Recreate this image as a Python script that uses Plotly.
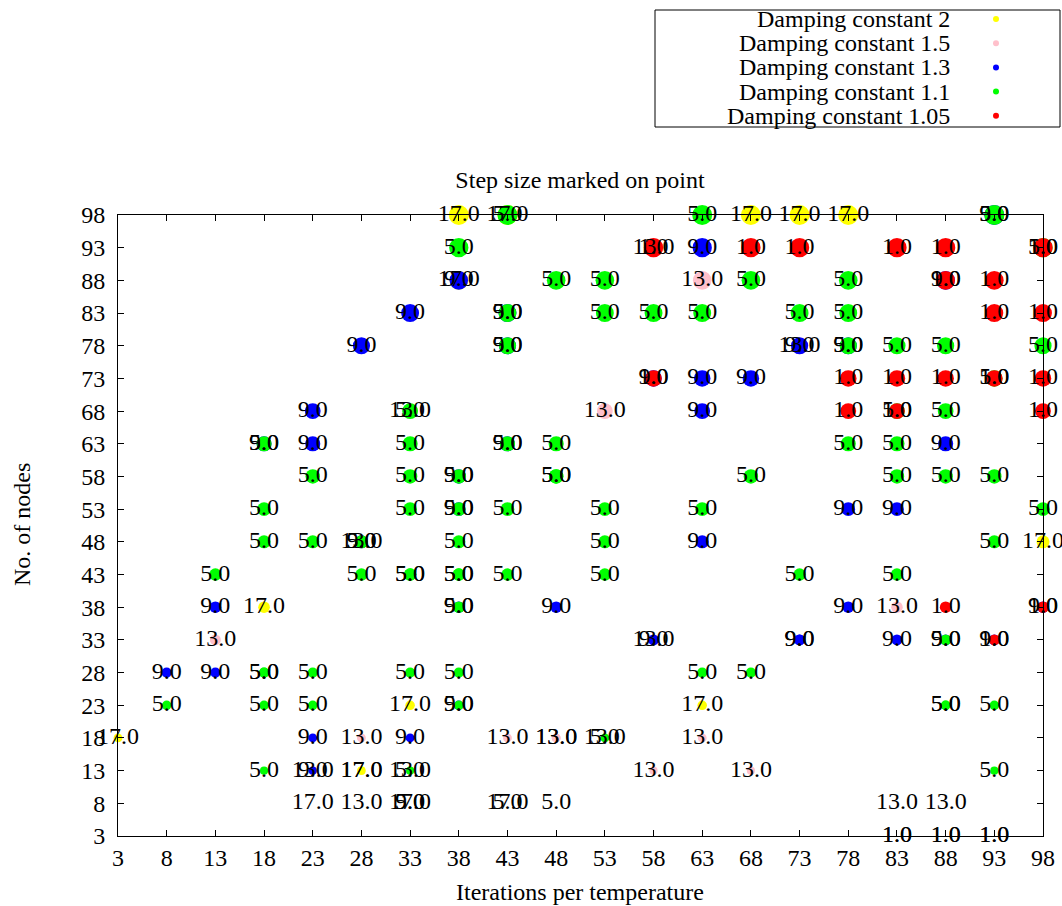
import plotly.graph_objects as go

# ---------------- data ----------------
x_ticks = list(range(3, 99, 5))
y_ticks = list(range(3, 99, 5))

series_names = ["Damping constant 2", "Damping constant 1.5", "Damping constant 1.3",
                "Damping constant 1.1", "Damping constant 1.05"]
series_colors = ["#ffff00", "#ffc0cb", "#0000ff", "#00ff00", "#ff0000"]
series_steps = [17.0, 13.0, 9.0, 5.0, 1.0]

d2_x = [38, 43, 68, 73, 78, 38, 98, 18, 33, 63, 3, 28, 28, 23, 33, 43]
d2_y = [98, 98, 98, 98, 98, 88, 48, 38, 23, 23, 18, 13, 13, 8, 8, 8]

d15_x = [58, 63, 73, 33, 53, 28, 83, 13, 58, 28, 43, 48, 48, 53, 63, 23, 33, 58, 68, 28, 83, 88]
d15_y = [93, 88, 78, 68, 68, 48, 38, 33, 33, 18, 18, 18, 18, 18, 18, 13, 13, 13, 13, 8, 8, 8]

d13_x = [93, 63, 38, 88, 33, 43, 28, 43, 73, 78, 58, 63, 68, 23, 63, 18, 23, 43, 88, 38, 38, 78, 83,
         28, 63, 13, 38, 48, 78, 98, 58, 73, 73, 83, 88, 93, 8, 13, 38, 23, 33, 23, 33]
d13_y = [98, 93, 88, 88, 83, 83, 78, 78, 78, 78, 73, 73, 73, 68, 68, 63, 63, 63, 63, 58, 53, 53, 53,
         48, 48, 38, 38, 38, 38, 38, 33, 33, 33, 33, 33, 33, 28, 28, 23, 18, 18, 13, 8]

d11_x = [43, 63, 93, 38, 98, 48, 53, 68, 78, 43, 53, 58, 63, 73, 78, 43, 78, 83, 88, 98, 93,
         33, 83, 88, 18, 33, 43, 48, 78, 83, 23, 33, 38, 48, 48, 68, 83, 88, 93,
         18, 33, 38, 43, 53, 63, 98, 18, 23, 28, 38, 53, 93,
         13, 28, 33, 33, 38, 38, 43, 53, 73, 83, 38, 88, 18, 18, 23, 33, 38, 63, 68,
         8, 18, 23, 38, 88, 88, 93, 53, 18, 33, 93, 33, 43, 48]
d11_y = [98, 98, 98, 93, 93, 88, 88, 88, 88, 83, 83, 83, 83, 83, 83, 78, 78, 78, 78, 78, 73,
         68, 68, 68, 63, 63, 63, 63, 63, 63, 58, 58, 58, 58, 58, 58, 58, 58, 58,
         53, 53, 53, 53, 53, 53, 53, 48, 48, 48, 48, 48, 48,
         43, 43, 43, 43, 43, 43, 43, 43, 43, 43, 38, 33, 28, 28, 28, 28, 28, 28, 28,
         23, 23, 23, 23, 23, 23, 23, 18, 13, 13, 13, 8, 8, 8]

d105_x = [58, 68, 73, 83, 88, 98, 88, 93, 93, 98, 58, 78, 83, 88, 93, 98, 78, 83, 98,
          88, 98, 93, 83, 83, 88, 88, 93, 93]
d105_y = [93, 93, 93, 93, 93, 93, 88, 88, 83, 83, 73, 73, 73, 73, 73, 73, 68, 68, 68,
          38, 38, 33, 3, 3, 3, 3, 3, 3]

series_x = [d2_x, d15_x, d13_x, d11_x, d105_x]
series_y = [d2_y, d15_y, d13_y, d11_y, d105_y]

FONT = "Liberation Serif"
FS = 24


def marker_diameter(n):
    # point size grows with the number of nodes; smallest rows show no point
    return 0 if n <= 8 else 6.3 + 0.14 * n


fig = go.Figure()

# points first
for name, col, xs, ys in zip(series_names, series_colors, series_x, series_y):
    fig.add_trace(go.Scatter(
        x=xs, y=ys, mode="markers", name=name, showlegend=False,
        marker=dict(color=col, opacity=1, size=[marker_diameter(v) for v in ys],
                    line=dict(width=0)),
        cliponaxis=False, hoverinfo="skip"))

# labels on top
for name, step, xs, ys in zip(series_names, series_steps, series_x, series_y):
    fig.add_trace(go.Scatter(
        x=xs, y=ys, mode="text", name=name, showlegend=False,
        text=[f"{step:.1f}"] * len(xs), textposition="middle center",
        textfont=dict(family=FONT, size=FS, color="black"),
        cliponaxis=False, hoverinfo="skip"))

# ---------------- layout ----------------
L, R, T, B = 118, 19, 215, 70
W, H = 1062, 906
pw, ph = W - L - R, H - T - B


def px2paper_x(px):
    return (px - L) / pw


def px2paper_y(py):
    return (H - B - py) / ph


axis_common = dict(
    showgrid=False, zeroline=False, showline=True, mirror="ticks",
    linecolor="black", linewidth=1, ticks="inside", ticklen=6, tickcolor="black",
    tickfont=dict(family=FONT, size=FS, color="black"), automargin=False,
)

fig.update_layout(
    width=W, height=H, margin=dict(l=L, r=R, t=T, b=B, autoexpand=False),
    paper_bgcolor="white", plot_bgcolor="white",
    showlegend=False,
    xaxis=dict(range=[3, 98], tickvals=x_ticks, ticktext=[str(v) for v in x_ticks],
               **axis_common),
    yaxis=dict(range=[3, 98], tickvals=y_ticks, ticktext=[str(v) for v in y_ticks],
               ticklabelstandoff=7, **axis_common),
    title=dict(text="Step size marked on point", x=px2paper_x(580), xref="paper",
               xanchor="center", y=1 - 180 / H, yref="container", yanchor="middle",
               font=dict(family=FONT, size=FS, color="black")),
)

annotations = [
    dict(text="Iterations per temperature", xref="paper", yref="paper",
         x=px2paper_x(580), y=px2paper_y(892), xanchor="center", yanchor="middle",
         showarrow=False, font=dict(family=FONT, size=FS, color="black")),
    dict(text="No. of nodes", xref="paper", yref="paper", textangle=-90,
         x=px2paper_x(22), y=px2paper_y(525), xanchor="center", yanchor="middle",
         showarrow=False, font=dict(family=FONT, size=FS, color="black")),
]

# custom gnuplot-style key: text right-aligned, sample dot on the right
shapes = [dict(type="rect", xref="paper", yref="paper",
               x0=px2paper_x(655), x1=px2paper_x(1060),
               y0=px2paper_y(127), y1=px2paper_y(10),
               line=dict(color="black", width=1), fillcolor="rgba(0,0,0,0)")]
for i, (name, col) in enumerate(zip(series_names, series_colors)):
    yrow = 19 + 24.2 * i
    annotations.append(dict(text=name, xref="paper", yref="paper",
                            x=px2paper_x(952), y=px2paper_y(yrow),
                            xanchor="right", yanchor="middle", showarrow=False,
                            font=dict(family=FONT, size=FS, color="black")))
    shapes.append(dict(type="circle", xref="paper", yref="paper",
                       xsizemode="pixel", ysizemode="pixel",
                       xanchor=px2paper_x(996), yanchor=px2paper_y(yrow),
                       x0=-3, x1=3, y0=-3, y1=3,
                       fillcolor=col, line=dict(width=0)))
fig.update_layout(shapes=shapes, annotations=annotations)

fig.write_html("out.html")
